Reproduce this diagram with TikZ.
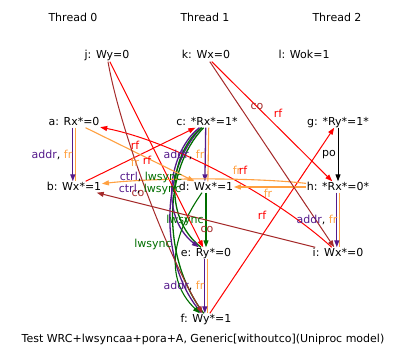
\documentclass[tikz,border=0pt]{standalone}
\usepackage{fontspec}
\setmainfont{DejaVu Sans}
\usepackage{tikz}
\usetikzlibrary{calc,arrows.meta,positioning}
\definecolor{depcol}{RGB}{85,26,139}
\definecolor{frcol}{RGB}{255,160,64}
\definecolor{cocol}{RGB}{165,42,42}
\definecolor{rfcol}{RGB}{255,0,0}
\definecolor{synccol}{RGB}{0,110,0}
\newcommand{\addrfr}{\textcolor{depcol}{addr}, \textcolor{frcol}{fr}}
\newcommand{\ctrlsync}{\textcolor{depcol}{ctrl}, \textcolor{synccol}{lwsync}}

\begin{document}
\begin{tikzpicture}[x=1pt,y=-1pt,font=\fontsize{11}{13}\selectfont]

\tikzset{evnode/.style={inner sep=0.5pt,text height=8pt,text depth=2pt},
edgelab/.style={inner sep=0pt},
tipped/.style={-{Triangle[length=7pt,width=5pt]}},
depline/.style={tipped,draw=depcol,line width=1.3pt},
frplain/.style={draw=frcol,line width=1.1pt},
frline/.style={tipped,draw=frcol,line width=1.1pt},
rfline/.style={tipped,draw=rfcol,line width=1pt},
coline/.style={tipped,draw=cocol,line width=1pt},
poline/.style={tipped,draw=black,line width=1pt},
syncplain/.style={draw=synccol,line width=1.3pt},
syncline/.style={tipped,draw=synccol,line width=1.1pt}}

\useasboundingbox (0,0) rectangle (407,361);

% Thread titles
\foreach \t/\x in {0/73,1/205,2/337} \node (th\t) at (\x,17) {Thread \t};

% Events
\foreach \n/\x/\y/\txt in {j/107/56/{j: Wy=0}, k/206/56/{k: Wx=0}, l/304/56/{l: Wok=1},
  a/74/122/{a: Rx*=0}, b/74/187/{b: Wx*=1}, c/207/122/{c: *Rx*=1*}, d/206/187/{d: Wx*=1},
  e/206/253/{e: Ry*=0}, f/206/319/{f: Wy*=1}, g/338/122/{g: *Ry*=1*}, h/338/187/{h: *Rx*=0*},
  i/338/253/{i: Wx*=0}}
  \node[evnode] (\n) at (\x,\y) {\txt};

% addr + fr, side by side
\foreach \s/\t in {a/b,c/d,e/f,h/i} {
  \draw[frplain,transform canvas={xshift=1.8pt}] (\s) -- (\t);
  \draw[depline,transform canvas={xshift=-1.2pt}] (\s) -- (\t);
}
\draw[poline] (g) -- (h);

% ctrl + lwsync
\draw[syncplain,transform canvas={xshift=2.2pt}] (c) .. controls (160,170) and (160,260) .. (f);
\draw[depline] (c) .. controls (160,170) and (160,260) .. (f);
\draw[syncplain,transform canvas={xshift=2.2pt}] (c) .. controls (170,150) and (158,215) .. (e);
\draw[depline] (c) .. controls (170,150) and (158,215) .. (e);
\draw[syncline] (d) -- (e);
\draw[syncline] (d) .. controls (165,245) and (170,285) .. (f);

% rf
\foreach \s/\t in {k/h,j/e,b/c,f/g} \draw[rfline] (\s) -- (\t);
\draw[rfline] (i) .. controls (278,198) and (175,142) .. (a);

% fr
\draw[frline] (a) -- (d);
\draw[frline] (h) -- (d);
\draw[frline] (h) .. controls (250,177) and (150,178) .. (b);

% co
\draw[coline] (k) -- (i);
\draw[coline] (i) -- (b);
\draw[coline] (j) .. controls (120,130) and (165,250) .. (f);

% Edge labels
\node[edgelab] (lab-ab) at (52,155) {\addrfr};
\node[edgelab] (lab-cd) at (184,155) {\addrfr};
\node[edgelab] (lab-ef) at (184,286) {\addrfr};
\node[edgelab] (lab-hi) at (317,220) {\addrfr};
\node[edgelab] (lab-gh) at (329,155) {po};
\node[edgelab,text=rfcol] (lab-kh) at (278,113) {rf};
\node[edgelab,text=cocol] (lab-ki) at (257,106) {co};
\node[edgelab,text=rfcol] (lab-fg) at (262,215) {rf};
\node[edgelab,text=cocol] (lab-ib) at (207,229) {co};
\node[edgelab,text=cocol] (lab-jf) at (138,193) {co};
\node[edgelab,text=rfcol] (lab-je) at (135,145) {rf};
\node[edgelab,text=frcol] (lab-ad) at (135,162) {fr};
\node[edgelab,text=rfcol] (lab-bc) at (147,160) {rf};
\node[edgelab,text=frcol] (lab-hb) at (237,170) {fr};
\node[edgelab,text=rfcol] (lab-ia) at (243,170) {rf};
\node[edgelab,text=frcol] (lab-hd) at (268,193) {fr};
\node[edgelab] (lab-cf) at (151,177) {\ctrlsync};
\node[edgelab] (lab-ce) at (150,189) {\ctrlsync};
\node[edgelab,text=synccol] (lab-de) at (185,220) {lwsync};
\node[edgelab,text=synccol] (lab-df) at (153,244) {lwsync};

% Caption
\node (caption) at (203,339) {Test WRC+lwsyncaa+pora+A, Generic[withoutco](Uniproc model)};

\end{tikzpicture}
\end{document}
